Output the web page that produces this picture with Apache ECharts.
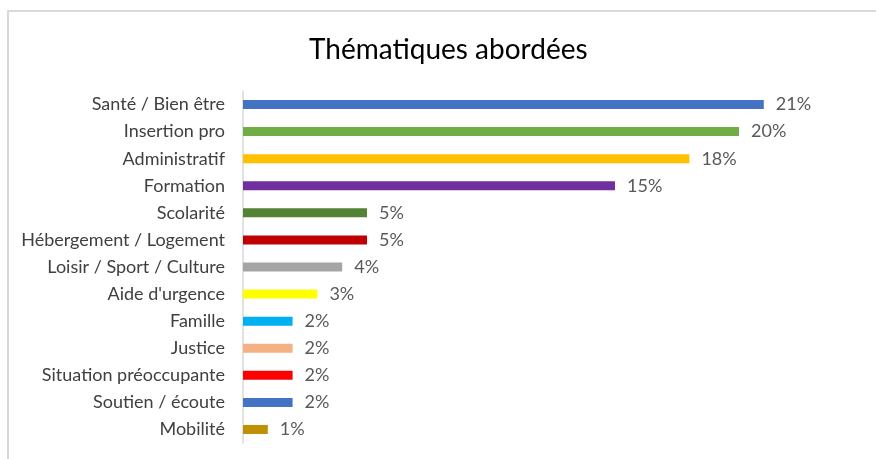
<!DOCTYPE html>
<html><head><meta charset="utf-8">
<script src="https://cdn.jsdelivr.net/npm/echarts@6/dist/echarts.min.js"></script>
<style>html,body{margin:0;padding:0;background:#fff}#c{width:876px;height:459px}</style>
</head><body><div id="c"></div>
<script>
const categories = ["Santé / Bien être","Insertion pro","Administratif","Formation","Scolarité","Hébergement / Logement","Loisir / Sport / Culture","Aide d'urgence","Famille","Justice","Situation préoccupante","Soutien / écoute","Mobilité"];
const values = [21,20,18,15,5,5,4,3,2,2,2,2,1];
const colors = ["#4472C4","#70AD47","#FFC000","#7030A0","#548235","#C00000","#A5A5A5","#FFFF00","#00B0F0","#F4B183","#FF0000","#4472C4","#BF9000"];
const title = "Thématiques abordées";
const font = "Lato, 'Open Sans', sans-serif";
const chart = echarts.init(document.getElementById('c'));
chart.setOption({
  animation:false,
  graphic:[{type:'rect',shape:{x:8,y:11,width:900,height:500},style:{fill:'none',stroke:'#d9d9d9',lineWidth:2}}],
  title:{text:title,left:304,top:31,textStyle:{fontFamily:font,fontSize:28,fontWeight:'normal',color:'#000'}},
  grid:{left:243,top:91,width:620,height:352,containLabel:false},
  xAxis:{type:'value',min:0,max:25,show:false},
  yAxis:{type:'category',data:categories,inverse:true,
    axisLine:{lineStyle:{color:'#d9d9d9',width:1.5}},axisTick:{show:false},
    axisLabel:{margin:18,fontFamily:font,fontSize:18,color:'#404040'}},
  series:[{type:'bar',barWidth:9,
    data:values.map((v,i)=>({value:v,itemStyle:{color:colors[i]}})),
    label:{show:true,position:'right',distance:12,formatter:'{c}%',fontFamily:font,fontSize:18,color:'#595959'}}]
});
</script></body></html>
